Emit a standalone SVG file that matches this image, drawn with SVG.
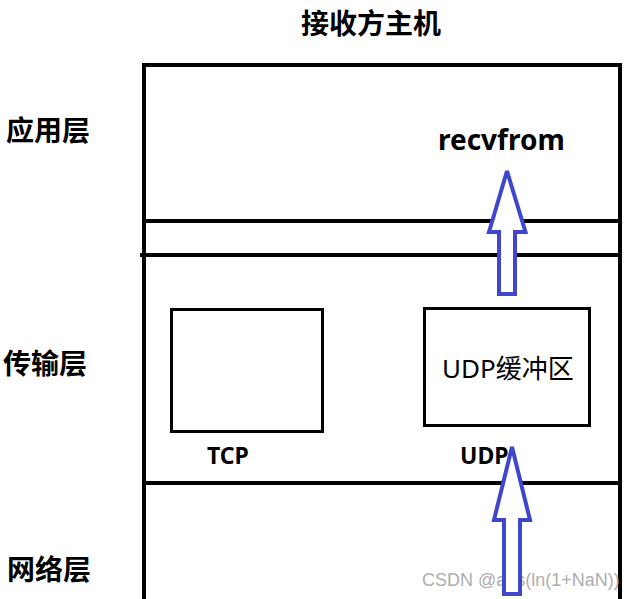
<svg xmlns="http://www.w3.org/2000/svg" width="639" height="599" viewBox="0 0 639 599">
<style>
.line{stroke:#000;stroke-width:4;fill:none}
.box{stroke:#000;stroke-width:3;fill:#fff}
.lbl{font-family:"Noto Sans CJK SC","Noto Sans",sans-serif;font-weight:bold;font-size:28px;fill:#000}
.bl{font-family:"Noto Sans","Noto Sans CJK SC",sans-serif;font-weight:bold;fill:#000}
.arr{stroke:#3f48cc;stroke-width:4;fill:#fff;stroke-linejoin:miter;stroke-miterlimit:3}
.wm{font-family:"Liberation Sans",Arial,sans-serif;font-size:18px;fill:#a0a0a0;opacity:0.85}
</style>
<rect width="639" height="599" fill="#fff"/>
<g id="host">
<path class="line" d="M144 599 V65 H620 V599"/>
<path class="line" d="M144 221 H620"/>
<path class="line" d="M140 255 H620"/>
<path class="line" d="M144 483 H620"/>
</g>
<text class="lbl" x="301" y="34">接收方主机</text>
<text class="lbl" x="6" y="141">应用层</text>
<text class="lbl" x="3" y="374">传输层</text>
<text class="lbl" x="7" y="580">网络层</text>
<g id="recvfrom"><text class="bl" x="438" y="150" font-size="28">recvfrom</text></g>
<g id="tcp">
<rect class="box" x="171.5" y="309.5" width="151" height="122"/>
<text class="bl" x="207" y="464" font-size="23">TCP</text>
</g>
<g id="udp">
<rect class="box" x="424.5" y="308.5" width="165" height="117"/>
<text x="442" y="378" font-family="'Noto Sans','Noto Sans CJK SC',sans-serif" font-size="26" fill="#000">UDP缓冲区</text>
<text class="bl" x="460" y="464" font-size="23">UDP</text>
</g>
<text class="wm" x="422" y="586">CSDN @abs(ln(1+NaN))</text>
<g id="connectors">
<path class="arr" d="M507 171 L489 232 H499 V294 H515 V232 H525.5 Z"/>
<path class="arr" d="M512 447 L494 520 H504 V594 H520 V520 H530 Z"/>
</g>
</svg>
